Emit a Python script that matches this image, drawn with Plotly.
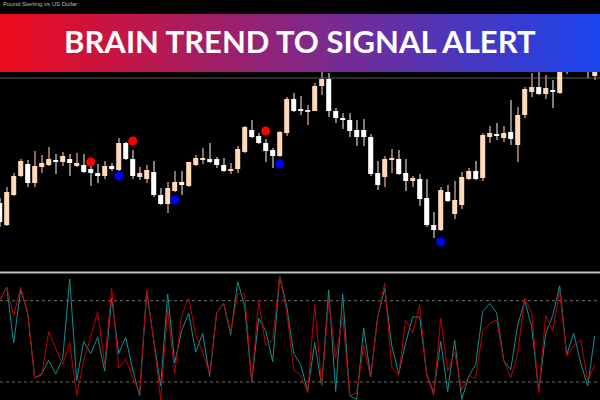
import plotly.graph_objects as go

# ---------------- data ----------------
idx = list(range(86))
opens = [97, 75, 105, 124, 136, 117, 133, 135, 140, 138, 141, 134, 135, 131, 127, 124, 134, 130, 157, 141,
         123, 121, 128, 105, 96, 109, 118, 114, 135, 140.5, 141, 141, 135, 129, 131, 148, 170, 164, 157, 150,
         144, 167, 201, 191, 188, 189, 214, 221, 189, 182, 180, 170, 170, 163, 127, 123, 140, 141, 127, 119,
         121, 102, 75, 70, 108, 86, 95, 121, 129, 122, 163, 165.5, 162, 168, 155, 185, 208, 213, 206, 209.5,
         207, 260, 255, 235, 250, 224]
highs = [102, 113, 127, 141, 140, 149, 145, 153, 146, 148, 146, 147, 146, 136, 136, 139, 137, 162, 158, 150,
         133, 135, 139, 112, 118, 129, 129, 138, 145, 152, 157, 143, 142, 137, 154, 174, 180, 167, 161, 152,
         169, 203, 207, 204, 195, 217, 228, 227, 192, 187, 187, 180, 181, 166, 139, 144, 151, 150, 141, 124,
         126, 121, 88, 113, 115, 119, 128, 132, 139, 167, 174, 177, 174, 200, 193, 213, 227, 229, 225, 220,
         245, 265, 262, 255, 255, 250]
lows = [73, 74, 104, 123, 113, 113, 127, 134, 126, 134, 124, 133, 127, 114, 117, 121, 129, 129, 140, 121,
        120, 117, 103, 95, 87, 108, 105, 113, 134, 136, 137, 132, 128, 126, 127, 147, 162, 156, 138, 132,
        143, 164, 188, 185, 175, 189, 205, 183, 177, 171, 163, 154, 154, 124, 110, 113, 127, 125, 109, 113,
        94, 73, 62, 69, 98, 81, 91, 120, 120, 119, 157, 160, 158, 155, 138, 182, 203, 205, 201, 192,
        206, 226, 234, 230, 222, 220]
closes = [78, 108, 124, 139, 117, 134, 137, 141, 138.5, 144, 137, 137, 128, 127, 124, 134, 131, 157, 141, 124,
          127, 130, 105, 96, 112, 118, 115, 138, 142, 142, 138, 135, 129, 131, 151, 173, 163, 157, 149, 144,
          168, 201, 189, 189.5, 190, 214, 221, 189, 182, 180, 169, 163, 163, 126, 115, 141, 142, 126, 119, 122,
          101, 75, 70, 110, 99, 100, 123, 129, 121, 165, 167, 164, 167, 161, 185, 211, 213, 206, 212, 208.5,
          240, 240, 240, 250, 238, 245]

sell_idx = [13, 19, 38]
sell_val = [138, 159, 169]
buy_idx = [17, 25, 40, 63]
buy_val = [124, 100, 136, 58]
level_line = 222

osc_teal = [80, 90, 49, 88, 71, 23, 26, 36, 26, 37, 96, 21, 50, 41, 53, 28, 82, 41, 53, 29,
            10, 87, 51, 17, 85, 34, 58, 71, 42, 56, 24, 71, 78, 55, 94, 76, 20, 67, 58, 35,
            98, 76, 41, 33, 13, 49, 17, 88, 13, 85, 10, 7, 60, 24, 68, 89, 47, 26, 49, 68,
            68, 26, 12, 50, 13, 51, 7, 24, 33, 72, 78, 71, 36, 29, 62, 80, 61, 13, 56, 69,
            91, 40, 56, 34, 17, 54]
osc_red = [80, 90, 69, 90, 71, 23, 25, 57, 45, 33, 49, 10, 36, 53, 72, 33, 89, 30, 37, 23,
           12, 88, 51, 7, 74, 26, 69, 82, 55, 42, 26, 71, 78, 57, 85, 85, 21, 80, 47, 51,
           98, 72, 29, 25, 12, 77, 17, 80, 37, 69, 10, 12, 47, 23, 68, 93, 31, 25, 66, 56,
           77, 25, 10, 67, 28, 42, 14, 24, 23, 58, 63, 66, 36, 23, 41, 82, 71, 12, 69, 58,
           87, 39, 47, 51, 21, 33]
osc_levels = [80, 20]

title = "BRAIN TREND TO SIGNAL ALERT"
subtitle = "Pound Sterling vs US Dollar"

# ---------------- styling ----------------
W, H = 600, 400
BULL, BEAR = "#ffd9b8", "#ffffff"
BULL_WICK, BEAR_WICK = "#8a6a64", "#7d7d7d"
GRAD_L, GRAD_R = (238, 10, 27), (26, 68, 238)


def py(px):
    return 1 - px / H


bull = [c >= o for o, c in zip(opens, closes)]
body_base = [min(o, c) for o, c in zip(opens, closes)]
body_len = [max(abs(c - o), 1.0) for o, c in zip(opens, closes)]
wick_len = [h - l for h, l in zip(highs, lows)]
body_col = [BULL if b else BEAR for b in bull]
wick_col = [BULL_WICK if b else BEAR_WICK for b in bull]

fig = go.Figure()
fig.add_trace(go.Bar(x=idx, y=wick_len, base=lows, width=0.15,
                     marker=dict(color=wick_col, line_width=0), hoverinfo="skip"))
fig.add_trace(go.Bar(x=idx, y=body_len, base=body_base, width=0.72,
                     marker=dict(color=body_col, line_width=0)))
fig.add_trace(go.Scatter(x=sell_idx, y=sell_val, mode="markers",
                         marker=dict(color="#ff0000", size=9, line_width=0)))
fig.add_trace(go.Scatter(x=buy_idx, y=buy_val, mode="markers",
                         marker=dict(color="#0000ff", size=9, line_width=0)))

fig.add_trace(go.Scatter(x=idx, y=osc_teal, mode="lines", line=dict(color="#138f8f", width=1),
                         xaxis="x2", yaxis="y2"))
fig.add_trace(go.Scatter(x=idx, y=osc_red, mode="lines", line=dict(color="#c00000", width=1),
                         xaxis="x2", yaxis="y2"))

shapes = []
# price level line
shapes.append(dict(type="line", xref="paper", yref="y", x0=0, x1=1, y0=level_line, y1=level_line,
                   line=dict(color="#5a5a5a", width=1), layer="below"))
# oscillator levels
for lv in osc_levels:
    shapes.append(dict(type="line", xref="paper", yref="y2", x0=0, x1=1, y0=lv, y1=lv,
                       line=dict(color="#6e6e6e", width=1, dash="dot"), layer="below"))
# window separator
shapes.append(dict(type="line", xref="paper", yref="paper", x0=0, x1=1, y0=py(272.5), y1=py(272.5),
                   line=dict(color="#bdbdbd", width=2)))
# gradient banner
N = 150
for k in range(N):
    t = (k + 0.5) / N
    r, g, b = [round(a + (bb - a) * t) for a, bb in zip(GRAD_L, GRAD_R)]
    shapes.append(dict(type="rect", xref="paper", yref="paper",
                       x0=k / N, x1=(k + 1) / N + 0.002, y0=py(72), y1=py(14),
                       fillcolor=f"rgb({r},{g},{b})", line_width=0, layer="above"))

annotations = [
    dict(text=title, x=0.5, y=py(41), xref="paper", yref="paper", showarrow=False,
         xanchor="center", yanchor="middle",
         font=dict(family="Lato", size=31, color="#ffffff", weight=700)),
    dict(text=subtitle, x=1 / W, y=py(4), xref="paper", yref="paper", showarrow=False,
         xanchor="left", yanchor="middle",
         font=dict(family="Liberation Sans", size=6, color="#bbbbbb")),
]

fig.update_layout(
    width=W, height=H, margin=dict(l=0, r=0, t=0, b=0),
    paper_bgcolor="#000000", plot_bgcolor="#000000",
    showlegend=False, barmode="overlay",
    shapes=shapes, annotations=annotations,
    xaxis=dict(range=[0.043, 85.757], visible=False, domain=[0, 1], anchor="y"),
    yaxis=dict(range=[29, 300], visible=False, domain=[py(271), 1]),
    xaxis2=dict(range=[0.043, 85.757], visible=False, domain=[0, 1], anchor="y2"),
    yaxis2=dict(range=[6.7, 99.7], visible=False, domain=[0, py(274)]),
)

fig.write_html("out.html", config={"displayModeBar": False},
               post_script="document.body.style.margin='0px';document.body.style.background='#000';")
